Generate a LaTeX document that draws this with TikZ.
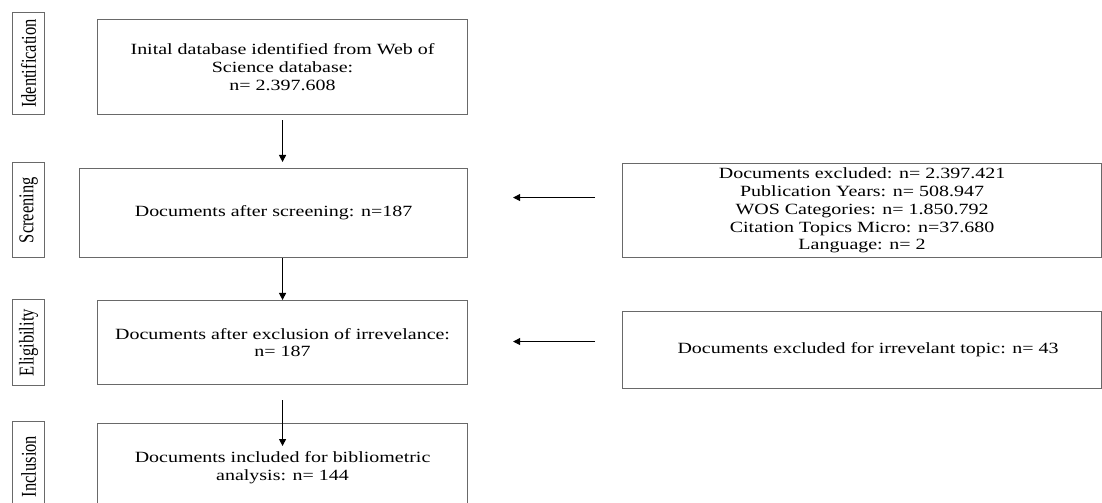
\documentclass[tikz,border=0pt]{standalone}
\usepackage{fontspec}
\setmainfont{Liberation Serif}[FakeStretch=1.28]
\newfontfamily\labelfont{Liberation Serif}
\usetikzlibrary{arrows.meta}
\definecolor{framegray}{RGB}{105,105,105}
\begin{document}
\begin{tikzpicture}[x=1bp,y=-1bp,
  boxtext/.style={font=\fontsize{15.6bp}{17.8bp}\selectfont, align=center},
  stagebox/.style={draw=framegray, line width=1.1bp, rectangle, inner sep=0pt,
    anchor=north west, boxtext},
  phase/.style={draw=framegray, line width=1.1bp, rectangle, inner sep=0pt,
    anchor=north west, minimum width=32bp},
  arr/.style={line width=1bp, -{Triangle[length=7bp,width=7bp]}}]

  % canvas
  \fill[white] (0,0) rectangle (1102,503);
  \useasboundingbox (0,0) rectangle (1102,503);

  % phase labels on the left
  \node[phase, minimum height=102bp] (lab1) at (12,12) {};
  \node[rotate=90] at (lab1.center) {\scalebox{1}[1.28]{\labelfont\fontsize{16.5bp}{18bp}\selectfont Identification}};
  \node[phase, minimum height=95bp] (lab2) at (12,162) {};
  \node[rotate=90] at (lab2.center) {\scalebox{1}[1.28]{\labelfont\fontsize{16.5bp}{18bp}\selectfont Screening}};
  \node[phase, minimum height=86bp] (lab3) at (12,299) {};
  \node[rotate=90] at (lab3.center) {\scalebox{1}[1.28]{\labelfont\fontsize{16.5bp}{18bp}\selectfont Eligibility}};
  \node[phase, minimum height=90bp] (lab4) at (12,421) {};
  \node[rotate=90] at (lab4.center) {\scalebox{1}[1.28]{\labelfont\fontsize{16.5bp}{18bp}\selectfont Inclusion}};

  % main flow
  \node[stagebox, minimum width=370bp, minimum height=95bp] (box1) at (97,19)
    {Inital database identified from Web of\\ Science database:\\ n= 2.397.608};
  \node[stagebox, minimum width=388bp, minimum height=89bp] (box2) at (79,168)
    {Documents after screening: n=187};
  \node[stagebox, minimum width=370bp, minimum height=84bp] (box3) at (97,300)
    {Documents after exclusion of irrevelance:\\ n= 187};
  \node[stagebox, minimum width=370bp, minimum height=88bp] (box4) at (97,423)
    {Documents included for bibliometric\\ analysis: n= 144};

  % exclusion boxes
  \node[stagebox, minimum width=479bp, minimum height=94bp] (ex1) at (622,163)
    {Documents excluded: n= 2.397.421\\ Publication Years: n= 508.947\\ WOS Categories: n= 1.850.792\\ Citation Topics Micro: n=37.680\\ Language: n= 2};
  \node[stagebox, minimum width=479bp, minimum height=77bp] (ex2) at (622,311)
    {\hspace*{12bp}Documents excluded for irrevelant topic: n= 43};

  % vertical arrows
  \draw[arr, shorten <=5bp, shorten >=6bp] (box1.south) -- (box1.south |- box2.north);
  \draw[arr] (box3.north |- box2.south) -- (box3.north);
  \draw[arr, shorten <=15bp, shorten >=-23bp] (box3.south) -- (box3.south |- box4.north);

  % horizontal arrows
  \coordinate (a1) at ([yshift=13bp]ex1.west);
  \coordinate (a2) at ([yshift=8.5bp]ex2.west);
  \draw[arr, shorten <=27bp, shorten >=45bp] (a1) -- (a1 -| box2.east);
  \draw[arr, shorten <=27bp, shorten >=45bp] (a2) -- (a2 -| box3.east);
\end{tikzpicture}
\end{document}
